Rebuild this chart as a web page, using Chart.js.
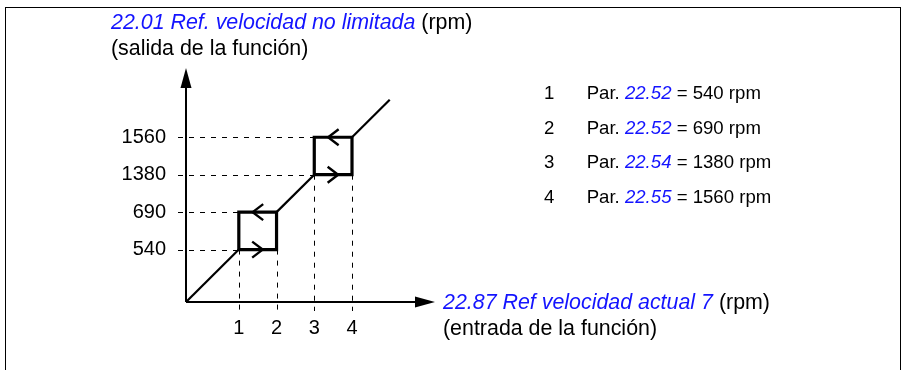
<!DOCTYPE html>
<html>
<head>
<meta charset="utf-8">
<script src="https://cdn.jsdelivr.net/npm/chart.js@4.4.1/dist/chart.umd.min.js"></script>
<style>
  body { margin: 0; background: #fff; font-family: "Liberation Sans", Arial, sans-serif; }
  #wrap { position: relative; width: 902px; height: 370px; overflow: hidden; }
  #frame { position: absolute; left: 5px; top: 7px; width: 894px; height: 400px; border: 1px solid #000; border-bottom: none; }
  canvas { position: absolute; left: 0; top: 0; }
  .lbl { position: absolute; font-size: 21.4px; line-height: 26px; color: #000; white-space: nowrap; }
  .par { color: #1414ff; font-style: italic; }
  #legend { position: absolute; left: 544px; top: 76px; font-size: 18.6px; line-height: 34.5px; white-space: nowrap; }
  #legend .num { display: inline-block; width: 42.7px; }
</style>
</head>
<body>
<div id="wrap">
  <div id="frame"></div>
  <canvas id="chart" width="902" height="370"></canvas>
  <div class="lbl" style="left:111px; top:9px;"><span class="par">22.01 Ref. velocidad no limitada</span> (rpm)<br>(salida de la función)</div>
  <div class="lbl" style="left:443px; top:289px;"><span class="par">22.87 Ref velocidad actual 7</span> (rpm)<br>(entrada de la función)</div>
  <div id="legend"></div>
</div>
<script>
const xTickLabels = ['1', '2', '3', '4'];
const yTickLabels = ['540', '690', '1380', '1560'];
const legendParams = ['22.52', '22.52', '22.54', '22.55'];
const legendValues = [540, 690, 1380, 1560];
// hysteresis windows, in tick positions [from, to]
const windows = [[1, 2], [3, 4]];
const origin = -0.4;
const rampEnd = 5;

// legend list on the right
const legend = document.getElementById('legend');
legendParams.forEach((p, i) => {
    const row = document.createElement('div');
    row.innerHTML = '<span class="num">' + xTickLabels[i] + '</span>Par. <span class="par">' + p + '</span> = ' + legendValues[i] + ' rpm';
    legend.appendChild(row);
});

const pt = (x, y) => ({ x: x, y: y });

// ramp pieces between the windows
const rampStops = [origin, windows[0][0], windows[0][1], windows[1][0], windows[1][1], rampEnd];
const datasets = [];
for (let i = 0; i < rampStops.length; i += 2) {
    datasets.push({
        data: [pt(rampStops[i], rampStops[i]), pt(rampStops[i + 1], rampStops[i + 1])],
        borderColor: '#000', borderWidth: 2.2, pointRadius: 0, showLine: true
    });
}
windows.forEach(w => {
    const a = w[0], b = w[1];
    datasets.push({
        data: [pt(a, a), pt(b, a), pt(b, b), pt(a, b), pt(a, a)],
        borderColor: '#000', borderWidth: 3.2, pointRadius: 0, showLine: true,
        borderJoinStyle: 'miter', borderCapStyle: 'square'
    });
});

const diagram = {
    id: 'diagram',
    beforeDatasetsDraw(chart) {
        const { ctx, chartArea: ca, scales: { x, y } } = chart;
        ctx.save();
        ctx.strokeStyle = '#000';

        // dashed guides
        ctx.lineWidth = 1;
        ctx.setLineDash([5, 6]);
        windows.forEach(w => {
            const x0 = x.getPixelForValue(w[0]);
            w.forEach(v => {
                const py = Math.round(y.getPixelForValue(v)) + 0.5;
                ctx.beginPath();
                ctx.moveTo(ca.left - 8, py);
                ctx.lineTo(x0, py);
                ctx.stroke();
                const px = Math.round(x.getPixelForValue(v)) + 0.5;
                ctx.beginPath();
                ctx.moveTo(px, y.getPixelForValue(w[0]));
                ctx.lineTo(px, ca.bottom + 9);
                ctx.stroke();
            });
        });
        ctx.setLineDash([]);

        // axes with arrow heads
        ctx.lineWidth = 2;
        ctx.beginPath();
        ctx.moveTo(ca.left, ca.bottom);
        ctx.lineTo(ca.left, ca.top + 18);
        ctx.moveTo(ca.left, ca.bottom);
        ctx.lineTo(ca.right - 18, ca.bottom);
        ctx.stroke();
        ctx.fillStyle = '#000';
        ctx.beginPath();
        ctx.moveTo(ca.left, ca.top);
        ctx.lineTo(ca.left - 5.5, ca.top + 20);
        ctx.lineTo(ca.left + 5.5, ca.top + 20);
        ctx.closePath();
        ctx.fill();
        ctx.beginPath();
        ctx.moveTo(ca.right, ca.bottom);
        ctx.lineTo(ca.right - 20, ca.bottom - 5.5);
        ctx.lineTo(ca.right - 20, ca.bottom + 5.5);
        ctx.closePath();
        ctx.fill();
        ctx.restore();
    },
    afterDatasetsDraw(chart) {
        const { ctx, scales: { x, y } } = chart;
        ctx.save();
        ctx.strokeStyle = '#000';
        ctx.lineWidth = 2.4;
        windows.forEach(w => {
            const cx = x.getPixelForValue((w[0] + w[1]) / 2);
            // bottom edge points right, top edge points left
            [[w[0], 1], [w[1], -1]].forEach(([v, dir]) => {
                const cy = y.getPixelForValue(v);
                ctx.beginPath();
                ctx.moveTo(cx - dir * 5.5, cy - 8);
                ctx.lineTo(cx + dir * 5, cy);
                ctx.lineTo(cx - dir * 5.5, cy + 8);
                ctx.stroke();
            });
        });
        ctx.restore();
    }
};

const tickFont = { family: '"Liberation Sans", Arial, sans-serif', size: 20 };

new Chart(document.getElementById('chart'), {
    type: 'scatter',
    data: { datasets: datasets },
    options: {
        responsive: false,
        animation: false,
        events: [],
        layout: { padding: { left: 106, right: 467, top: 68, bottom: 28 } },
        plugins: { legend: { display: false }, tooltip: { enabled: false } },
        scales: {
            x: {
                type: 'linear', min: origin, max: 6.2,
                border: { display: false },
                grid: { display: false, drawTicks: false },
                afterBuildTicks: s => { s.ticks = xTickLabels.map((t, i) => ({ value: i + 1 })); },
                afterFit: s => { s.height = 40; },
                ticks: { color: '#000', font: tickFont, padding: 14, callback: (v, i) => xTickLabels[i] }
            },
            y: {
                type: 'linear', min: origin, max: 5.85,
                border: { display: false },
                grid: { display: false, drawTicks: false },
                afterBuildTicks: s => { s.ticks = yTickLabels.map((t, i) => ({ value: i + 1 })); },
                afterFit: s => { s.width = 80; },
                ticks: { color: '#000', font: tickFont, padding: 20, callback: (v, i) => yTickLabels[i] }
            }
        }
    },
    plugins: [diagram]
});
</script>
</body>
</html>
